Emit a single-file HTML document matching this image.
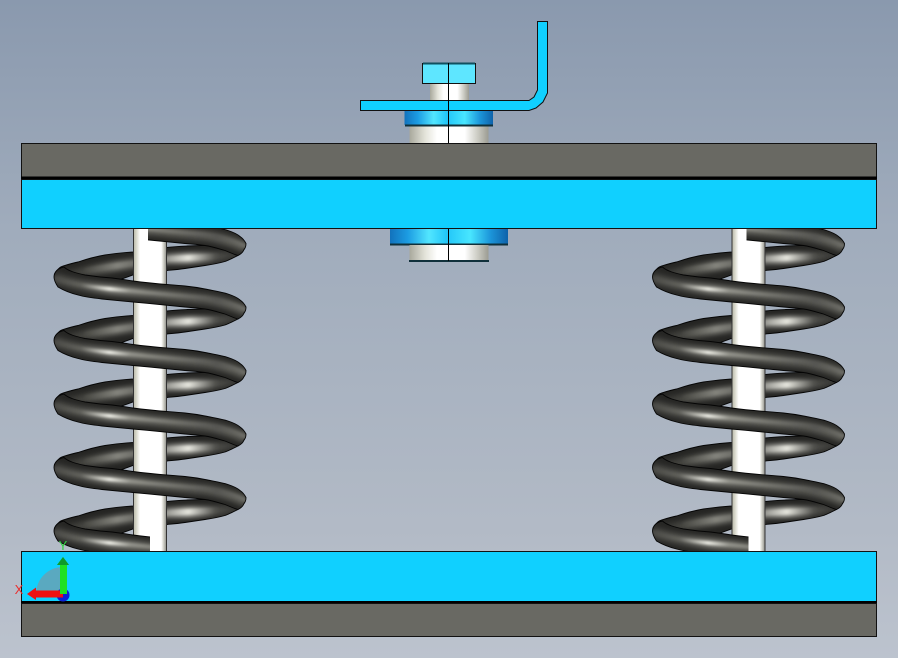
<!DOCTYPE html>
<html>
<head>
<meta charset="utf-8">
<style>
html,body{margin:0;padding:0;width:898px;height:658px;overflow:hidden;background:#9aa6b7}
svg{display:block}
</style>
</head>
<body>
<svg width="898" height="658" viewBox="0 0 898 658" xmlns="http://www.w3.org/2000/svg">
<defs>
<linearGradient id="bg" x1="0" y1="0" x2="0" y2="1">
<stop offset="0" stop-color="#8a99ae"/><stop offset=".35" stop-color="#a0acbc"/><stop offset=".8" stop-color="#b2bac6"/><stop offset="1" stop-color="#bcc3ce"/>
</linearGradient>
<linearGradient id="rod" x1="0" x2="1" y1="0" y2="0">
<stop offset="0" stop-color="#b8b8a8"/><stop offset=".1" stop-color="#dcdcd0"/><stop offset=".2" stop-color="#fff"/><stop offset=".84" stop-color="#fff"/><stop offset=".9" stop-color="#d8d8d0"/><stop offset="1" stop-color="#8f8f88"/>
</linearGradient>
<linearGradient id="col" x1="0" x2="1" y1="0" y2="0">
<stop offset="0" stop-color="#a8a89c"/><stop offset=".2" stop-color="#e4e4da"/><stop offset=".35" stop-color="#fff"/><stop offset=".7" stop-color="#fff"/><stop offset=".85" stop-color="#d0d0c8"/><stop offset="1" stop-color="#9b9b92"/>
</linearGradient>
<linearGradient id="wash" x1="0" x2="1" y1="0" y2="0">
<stop offset="0" stop-color="#1272bc"/><stop offset=".15" stop-color="#1c9ce2"/><stop offset=".33" stop-color="#52e6ff"/><stop offset=".48" stop-color="#22c6f8"/><stop offset=".68" stop-color="#48e6ff"/><stop offset=".85" stop-color="#1c96da"/><stop offset="1" stop-color="#0e62aa"/>
</linearGradient>
<linearGradient id="fg" gradientUnits="userSpaceOnUse" x1="54" x2="246" y1="0" y2="0">
<stop offset="0" stop-color="#4a4a46"/><stop offset=".15" stop-color="#545450"/><stop offset=".3" stop-color="#80807a"/><stop offset=".5" stop-color="#62625c"/><stop offset=".8" stop-color="#555550"/><stop offset="1" stop-color="#60605a"/>
</linearGradient>
<linearGradient id="fh" gradientUnits="userSpaceOnUse" x1="54" x2="246" y1="0" y2="0">
<stop offset="0" stop-color="#4a4a46"/><stop offset=".14" stop-color="#62625c"/><stop offset=".29" stop-color="#f4f4ec"/><stop offset=".4" stop-color="#94948c"/><stop offset=".62" stop-color="#74746e"/><stop offset=".85" stop-color="#565652"/><stop offset="1" stop-color="#70706a"/>
</linearGradient>
<linearGradient id="rg" gradientUnits="userSpaceOnUse" x1="54" x2="246" y1="0" y2="0">
<stop offset="0" stop-color="#2e2e2c"/><stop offset=".15" stop-color="#44443f"/><stop offset=".33" stop-color="#85857e"/><stop offset=".5" stop-color="#5a5a56"/><stop offset=".7" stop-color="#e8e8e0"/><stop offset=".84" stop-color="#50504c"/><stop offset="1" stop-color="#2a2a28"/>
</linearGradient>
<filter id="b1" filterUnits="userSpaceOnUse" x="0" y="-200" width="300" height="1000"><feGaussianBlur stdDeviation="1.3"/></filter>
<filter id="b2" filterUnits="userSpaceOnUse" x="0" y="-200" width="300" height="1000"><feGaussianBlur stdDeviation="2.6"/></filter>
<path id="Fs" d="M54,277 C54,272 58,268 64,267 C68,271 76,273 85,275 C95,276.500 105,277.500 112,278 C120,279 127,280 133,281 C155,284 170,284.500 185,286 C195,287 200,288 205,289 C215,291 222,292 228,294 C234,296 238,298 240,300 C243,302 245,305 246,307 C246,310 245,312 244,313 C243,316 240,318 238,319 C234,318 230,316 225,314 C218,312 212,310 205,309 C198,308 192,307.500 185,307 C165,305 150,303.500 133,302 C122,301 112,300 102,299 C93,298 85,297 78,295 C70,293 63,290 58,287 C56,284 54,280 54,277 Z"/>
<path id="Rs" d="M244,313 L238,319 C232,322 228,324 225,325 C218,327 212,328 205,329 C198,330 192,331 185,332 C178,333 172,333.500 167,334 C155,335.500 145,337 133,338.500 L112,346 L65,350 L57,334.500 C58,332 60,330.500 63,329.500 C68,328 73,326.500 78,325.500 C87,322.500 96,320 105,318.500 C115,317 125,316 133,315.500 C145,314 155,312 167,311 C175,310 180,309.800 187,309.500 L230,308 Z"/>
<clipPath id="cf"><use href="#Fs"/></clipPath>
<clipPath id="cr"><use href="#Rs"/></clipPath>
<g id="front">
<use href="#Fs" fill="#262624"/>
<g clip-path="url(#cf)">
<path d="M54,278 C75,285 95,288 133,291.500 C160,294 185,297 205,299 C225,302 240,308 246,311" fill="none" stroke="url(#fg)" stroke-width="10" filter="url(#b2)"/>
<path d="M54,278 C75,285 95,288 133,291 C160,294 185,296 205,298 C225,301 240,307 246,310" fill="none" stroke="url(#fh)" stroke-width="3.500" filter="url(#b1)"/>
</g>
<use href="#Fs" fill="none" stroke="#050505" stroke-width=".9"/>
</g>
<g id="rear">
<use href="#Rs" fill="#252523"/>
<g clip-path="url(#cr)">
<path d="M240,317 C215,322 190,321 167,322.500 C140,326 100,331 60,340" fill="none" stroke="url(#rg)" stroke-width="9" filter="url(#b2)"/>
<path d="M218,319 C200,321 185,321 167,322.500 C140,326 110,329 85,334" fill="none" stroke="url(#rg)" stroke-width="3.500" filter="url(#b1)"/>
</g>
<use href="#Rs" fill="none" stroke="#050505" stroke-width=".9"/>
</g>
<clipPath id="cTop"><rect x="148" y="229" width="120" height="60"/></clipPath>
<clipPath id="cBot"><rect x="40" y="500" width="110" height="51"/></clipPath>
<clipPath id="cRear"><rect x="40" y="229" width="220" height="322"/></clipPath>
<g id="spring">
<g clip-path="url(#cRear)">
<use href="#rear" y="-63.5"/>
<use href="#rear"/>
<use href="#rear" y="63.5"/>
<use href="#rear" y="127"/>
<use href="#rear" y="190.5"/>
</g>
<rect x="133.500" y="229" width="33" height="322" fill="url(#rod)"/>
<path d="M133.500,229V551M166.500,229V551" stroke="#333" stroke-width="1" fill="none"/>
<g clip-path="url(#cTop)"><use href="#front" y="-63.5"/></g>
<use href="#front"/>
<use href="#front" y="63.5"/>
<use href="#front" y="127"/>
<use href="#front" y="190.500"/>
<g clip-path="url(#cBot)"><use href="#front" y="254"/></g>
</g>
</defs>

<rect width="898" height="658" fill="url(#bg)"/>

<use href="#spring"/>
<use href="#spring" x="598.500"/>

<!-- upper plates -->
<rect x="21.500" y="143.500" width="855" height="34" fill="#696963" stroke="#111" stroke-width="1"/>
<rect x="21" y="176.500" width="856" height="2.500" fill="#000"/>
<rect x="21.500" y="179.500" width="855" height="49" fill="#10d0ff" stroke="#111" stroke-width="1"/>

<!-- lower plates -->
<rect x="21.500" y="551.500" width="855" height="50" fill="#10d0ff" stroke="#111" stroke-width="1"/>
<rect x="21" y="601" width="856" height="2.500" fill="#000"/>
<rect x="21.500" y="603.500" width="855" height="33" fill="#696963" stroke="#111" stroke-width="1"/>

<!-- top bolt assembly -->
<rect x="430" y="83" width="39" height="18" fill="url(#col)"/>
<rect x="409.500" y="126" width="79" height="17" fill="url(#col)"/>
<rect x="404.500" y="111" width="88.500" height="14" fill="url(#wash)"/>
<rect x="405" y="124.500" width="88" height="2" fill="#10303a"/>
<rect x="422.500" y="63.500" width="53" height="20" fill="#5ee6ff" stroke="#111" stroke-width="1"/>
<rect x="423" y="62.500" width="52" height="2" fill="#10505f"/>
<path d="M360.500,100.500 H529 L534,97 L537.500,90 V21.500 H547.500 V93 L543,102 L536,108 L529,110.500 H360.500 Z" fill="#10d0ff" stroke="#111" stroke-width="1"/>
<path d="M448.500,63V143" stroke="#000" stroke-width="1" fill="none"/>

<!-- lower nut -->
<rect x="390" y="229" width="118" height="15" fill="url(#wash)"/>
<rect x="390" y="243.500" width="118" height="2" fill="#10303a"/>
<rect x="409.500" y="245" width="79" height="16" fill="url(#col)"/>
<rect x="409" y="260" width="80" height="2" fill="#10303a"/>
<path d="M448.500,229V261" stroke="#000" stroke-width="1" fill="none"/>

<!-- triad -->
<path d="M63,594 L36,594 A27,27 0 0 1 63,567 Z" fill="#5aa9c0"/>
<circle cx="63" cy="595" r="6.500" fill="#0b1fd8"/>
<path d="M27,594 L36,587.500 V590.500 H63 V597.500 H36 V600 Z" fill="#ee1111"/>
<path d="M63,557 L69,565 H67 V594 H60 V565 H57 Z" fill="#20e020"/>
<path d="M63,557 L69,565 H57 Z" fill="#0f9a2a"/>
<text x="63" y="550" font-family="Liberation Sans, sans-serif" font-size="13" fill="#2fd040" text-anchor="middle">Y</text>
<text x="19" y="594" font-family="Liberation Sans, sans-serif" font-size="13" fill="#e83030" text-anchor="middle">X</text>
</svg>
</body>
</html>
